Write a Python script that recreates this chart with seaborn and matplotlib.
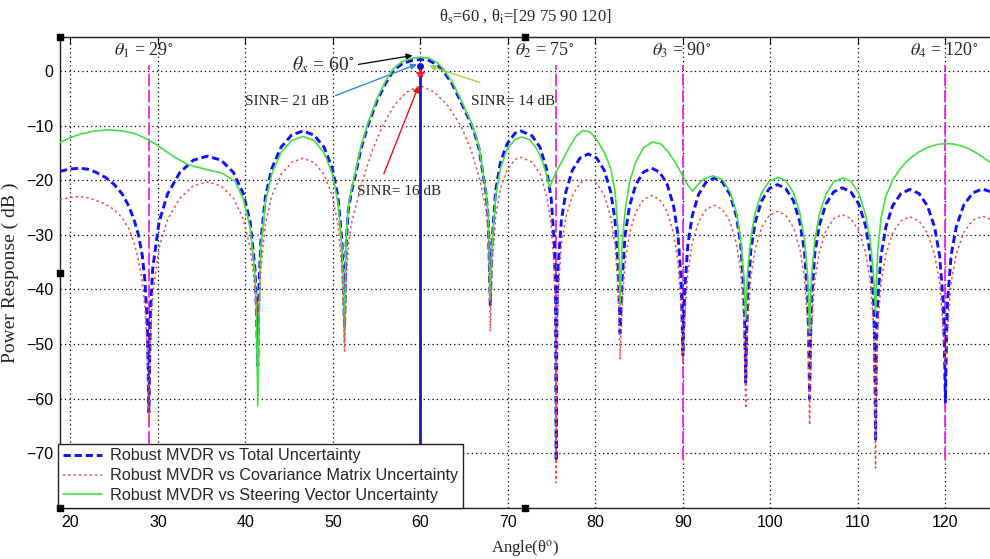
import matplotlib
matplotlib.use('Agg')
import matplotlib.pyplot as plt
import pandas as pd
import seaborn as sns

# ---------------- data ----------------
# Robust MVDR vs Total Uncertainty (blue, dashed)
ang_total = [
    18.8, 19.8, 21.0, 22.0, 22.9, 24.0, 25.0, 25.9, 26.65, 27.25, 27.75, 28.2, 28.5, 28.78, 28.96,
    29.14, 29.4, 30.12, 31.1, 32.5, 34.03, 35.66, 37.22, 38.63, 39.76, 40.54, 41.08, 41.26, 41.41,
    41.55, 41.74, 42.27, 43.0, 44.05, 45.27, 46.57, 47.84, 49.0, 49.93, 50.58, 51.04, 51.2, 51.32,
    51.5, 51.75, 52.1, 52.5, 53.2, 54.0, 55.0, 56.0, 56.9, 57.9, 59.0, 60.0, 61.0, 62.0, 62.6, 63.6,
    64.6, 65.6, 66.2, 66.7, 67.2, 67.5, 67.75, 67.98,
    68.07, 68.21, 68.59, 69.13, 69.89, 70.81, 71.5, 72.77, 73.67, 74.41, 74.93, 75.30, 75.43, 75.52,
    75.6, 75.74, 76.11, 76.63, 77.36, 78.24, 79.19, 80.14, 81.01, 81.74, 82.24, 82.6, 82.72, 82.82,
    83.04, 83.4, 83.9, 84.62, 85.48, 86.42, 87.35, 88.21, 88.93, 89.43, 89.79, 89.9, 90.0,
    90.1, 90.21, 90.57, 91.07, 91.79, 92.65, 93.58, 94.52, 95.38, 96.10, 96.60, 96.96, 97.07, 97.18,
    97.29, 97.40, 97.76, 98.26, 98.99, 99.86, 100.81, 101.76, 102.64, 103.37, 103.89, 104.26, 104.37, 104.48,
    104.59, 104.70, 105.07, 105.59, 106.33, 107.23, 108.21, 109.19, 110.11, 110.87, 111.41, 111.79, 111.91, 112.02,
    112.12, 112.26, 112.64, 113.19, 113.97, 114.92, 115.94, 116.99, 117.95, 118.77, 119.34, 119.75, 119.88, 120.0,
    120.12, 120.25, 120.66, 121.25, 122.09, 123.11, 124.23, 125.1]
db_total = [
    -18.4, -18.0, -17.8, -18.0, -18.55, -19.5, -20.8, -22.5, -24.7, -27.2, -29.9, -33.7, -38.3, -46.3, -62.5,
    -44.1, -36.1, -27.7, -22.5, -18.6, -16.35, -15.6, -16.35, -18.6, -22.5, -27.7, -36.1, -44.1, -54.0,
    -39.5, -31.5, -23.1, -17.9, -14.0, -11.75, -11.0, -11.75, -14.0, -17.9, -23.1, -31.5, -39.5, -47.0,
    -32.0, -25.5, -22.3, -19.5, -14.3, -10.0, -5.6, -2.3, 0.0, 1.3, 1.9, 2.1, 1.9, 1.0, 0.0, -2.3,
    -5.6, -9.0, -11.5, -14.3, -19.5, -22.5, -27.0, -42.8,
    -36.5, -30.5, -22.0, -16.8, -13.4, -11.4, -11.0, -11.9, -14.0, -18.0, -23.2, -31.5, -40.0, -71.4,
    -43.7, -35.7, -27.3, -22.1, -18.2, -15.95, -15.2, -15.95, -18.2, -22.1, -27.3, -35.7, -42.0, -48.0,
    -38.3, -29.9, -24.7, -20.8, -18.55, -17.8, -18.55, -20.8, -24.7, -29.9, -38.3, -45.0, -52.0,
    -46.0, -40.1, -31.7, -26.5, -22.6, -20.35, -19.6, -20.35, -22.6, -26.5, -31.7, -40.1, -47.0, -57.0,
    -48.0, -41.3, -32.9, -27.7, -23.8, -21.55, -20.8, -21.55, -23.8, -27.7, -32.9, -41.3, -48.5, -60.0,
    -49.0, -41.9, -33.5, -28.3, -24.4, -22.15, -21.4, -22.15, -24.4, -28.3, -33.5, -41.9, -50.0, -67.8,
    -50.0, -42.2, -33.8, -28.6, -24.7, -22.45, -21.7, -22.45, -24.7, -28.6, -33.8, -42.2, -50.0, -60.6,
    -50.0, -42.1, -33.7, -28.5, -24.6, -22.35, -21.6, -22.1]

# Robust MVDR vs Covariance Matrix Uncertainty (red, dotted)
ang_cov = [
    18.8, 19.8, 21.0, 22.0, 22.9, 24.0, 25.0, 25.9, 26.65, 27.25, 27.75, 28.2, 28.5, 28.78, 28.96,
    29.14, 29.4, 30.12, 31.1, 32.5, 34.03, 35.66, 37.22, 38.63, 39.76, 40.54, 41.08, 41.26, 41.41,
    41.55, 41.74, 42.27, 43.0, 44.05, 45.27, 46.57, 47.84, 49.0, 49.93, 50.58, 51.04, 51.2, 51.32,
    51.55, 51.8, 52.1, 52.5, 53.4, 54.5, 55.7, 57.0, 58.4, 60.0, 61.6, 63.1, 64.6, 65.8, 66.8, 67.5, 67.8, 67.98,
    68.07, 68.21, 68.59, 69.13, 69.89, 70.81, 71.5, 72.77, 73.67, 74.41, 74.93, 75.30, 75.43, 75.52,
    75.6, 75.74, 76.11, 76.63, 77.36, 78.24, 79.19, 80.14, 81.01, 81.74, 82.24, 82.6, 82.72, 82.82,
    83.04, 83.4, 83.9, 84.62, 85.48, 86.42, 87.35, 88.21, 88.93, 89.43, 89.79, 89.9, 90.0,
    90.1, 90.21, 90.57, 91.07, 91.79, 92.65, 93.58, 94.52, 95.38, 96.10, 96.60, 96.96, 97.07, 97.18,
    97.29, 97.40, 97.76, 98.26, 98.99, 99.86, 100.81, 101.76, 102.64, 103.37, 103.89, 104.26, 104.37, 104.48,
    104.59, 104.70, 105.07, 105.59, 106.33, 107.23, 108.21, 109.19, 110.11, 110.87, 111.41, 111.79, 111.91, 112.02,
    112.12, 112.26, 112.64, 113.19, 113.97, 114.92, 115.94, 116.99, 117.95, 118.77, 119.34, 119.75, 119.88, 120.0,
    120.12, 120.25, 120.66, 121.25, 122.09, 123.11, 124.23, 125.1]
db_cov = [
    -23.6, -23.2, -23.0, -23.2, -23.7, -24.4, -25.4, -26.9, -28.8, -31.3, -34.5, -38.5, -43.0, -51.0, -64.0,
    -48.8, -40.8, -32.4, -27.2, -23.3, -21.05, -20.3, -21.05, -23.3, -27.2, -32.4, -39.5, -42.5, -45.0,
    -42.0, -36.5, -28.1, -22.9, -19.0, -16.75, -16.0, -16.75, -19.0, -22.9, -28.1, -36.5, -43.5, -51.3,
    -37.0, -31.5, -28.0, -25.5, -20.0, -14.5, -10.0, -6.3, -3.9, -2.7, -3.9, -6.3, -10.0, -14.5, -20.0, -25.5, -31.0, -47.7,
    -41.5, -35.3, -26.8, -21.6, -18.2, -16.2, -15.8, -16.7, -18.8, -22.8, -28.0, -36.3, -44.5, -75.4,
    -48.3, -40.3, -31.9, -26.7, -22.8, -20.55, -19.8, -20.55, -22.8, -26.7, -31.9, -40.3, -46.0, -52.8,
    -43.3, -34.9, -29.7, -25.8, -23.55, -22.8, -23.55, -25.8, -29.7, -34.9, -43.3, -48.0, -53.4,
    -49.0, -45.1, -36.7, -31.5, -27.6, -25.35, -24.6, -25.35, -27.6, -31.5, -36.7, -45.1, -52.0, -61.8,
    -53.0, -46.2, -37.8, -32.6, -28.7, -26.45, -25.7, -26.45, -28.7, -32.6, -37.8, -46.2, -53.5, -64.8,
    -54.0, -46.8, -38.4, -33.2, -29.3, -27.05, -26.3, -27.05, -29.3, -33.2, -38.4, -46.8, -55.0, -72.7,
    -55.0, -47.2, -38.8, -33.6, -29.7, -27.45, -26.7, -27.45, -29.7, -33.6, -38.8, -47.2, -51.0, -54.0,
    -51.0, -47.1, -38.7, -33.5, -29.6, -27.35, -26.6, -27.1]

# Robust MVDR vs Steering Vector Uncertainty (green, solid)
ang_steer = [
    18.8, 20.0, 21.3, 22.8, 24.4, 26.0, 27.4, 28.5, 29.7, 31.0, 32.0, 33.5, 35.4, 37.3, 38.8, 39.76,
    40.54, 41.08, 41.26, 41.41,
    41.55, 41.74, 42.27, 43.0, 44.05, 45.27, 46.57, 47.84, 49.0, 49.93, 50.58, 51.04, 51.2, 51.32,
    51.5, 51.75, 52.1, 52.5, 53.2, 54.0, 55.0, 56.0, 56.9, 57.9, 59.0, 60.0, 61.0, 62.0, 62.6, 63.6,
    64.6, 65.6, 66.2, 66.7, 67.2, 67.5, 67.75, 67.98,
    68.07, 68.21, 68.59, 69.13, 69.89, 70.81, 71.6, 72.5, 73.3, 74.0, 74.45, 74.75, 75.1, 75.6, 76.3,
    77.0, 77.8, 78.6, 79.4, 80.14, 81.01, 81.74, 82.24, 82.6, 82.72, 82.82,
    83.04, 83.4, 83.9, 84.62, 85.48, 86.5, 87.5, 88.3, 89.2, 89.9, 90.5, 91.1, 91.6, 92.3, 93.4,
    94.52, 95.38, 96.10, 96.60, 96.96, 97.07, 97.18,
    97.29, 97.40, 97.76, 98.26, 98.99, 99.86, 100.9, 101.76, 102.64, 103.37, 103.89, 104.26, 104.37, 104.48,
    104.59, 104.70, 105.07, 105.59, 106.33, 107.23, 108.3, 109.19, 110.11, 110.87, 111.41, 111.79, 111.91, 112.02,
    112.12, 112.26, 112.64, 113.19, 113.97, 114.92, 115.94, 117.0, 118.0, 119.0, 120.0, 121.0, 122.0,
    123.0, 124.0, 125.1]
db_steer = [
    -13.1, -12.2, -11.5, -11.0, -10.8, -11.0, -11.5, -12.3, -13.4, -14.8, -15.9, -17.2, -18.0, -18.7, -20.2, -23.5,
    -28.7, -37.0, -45.0, -61.3,
    -45.0, -32.5, -24.1, -18.9, -15.0, -12.75, -12.0, -12.75, -15.0, -18.9, -24.1, -32.5, -40.5, -49.7,
    -31.0, -25.0, -21.8, -19.0, -13.8, -9.6, -5.2, -1.9, 0.4, 1.7, 2.3, 2.5, 2.3, 1.4, 0.4, -1.9,
    -5.2, -8.7, -11.2, -14.0, -19.2, -22.2, -26.5, -42.0,
    -37.0, -31.0, -23.0, -17.9, -14.4, -12.5, -12.1, -12.6, -14.3, -16.8, -19.3, -21.3, -20.0, -18.2, -16.2,
    -14.0, -11.9, -10.9, -11.2, -12.6, -14.9, -17.8, -22.0, -29.5, -35.0, -43.0,
    -32.0, -25.5, -20.3, -16.6, -14.1, -13.0, -13.4, -14.8, -16.9, -19.0, -20.8, -22.0, -21.0, -19.9, -19.2,
    -19.9, -22.1, -25.8, -30.8, -37.5, -41.5, -45.5,
    -41.0, -36.5, -30.5, -25.9, -22.3, -20.2, -19.5, -20.1, -22.3, -26.0, -30.8, -37.5, -42.0, -48.0,
    -42.0, -37.5, -31.0, -26.3, -22.6, -20.3, -19.6, -20.2, -22.4, -26.3, -31.0, -37.5, -41.0, -44.3,
    -39.0, -33.0, -27.0, -23.0, -20.0, -17.7, -16.0, -14.8, -14.0, -13.5, -13.3, -13.4, -13.8,
    -14.5, -15.5, -16.7]

series_labels = ['Robust MVDR vs Total Uncertainty',
                 'Robust MVDR vs Covariance Matrix Uncertainty',
                 'Robust MVDR vs Steering Vector Uncertainty']

look_angle = 60
interf_angles = [29, 75.5, 90, 120]
interf_labels = [r'$\theta_1$ = 29$^{\circ}$', r'$\theta_2$ = 75$^{\circ}$',
                 r'$\theta_3$ = 90$^{\circ}$', r'$\theta_4$ = 120$^{\circ}$']
interf_top, interf_bottom = 1.0, -71.3
peak_total, peak_cov = 0.9, -0.3

xticks = [20, 30, 40, 50, 60, 70, 80, 90, 100, 110, 120]
yticks = [0, -10, -20, -30, -40, -50, -60, -70]

# ---------------- figure ----------------
sns.set_style('white')
plt.rcParams['font.family'] = ['Liberation Serif', 'DejaVu Serif']
plt.rcParams['mathtext.fontset'] = 'stix'

fig = plt.figure(figsize=(9.9, 5.59), dpi=100)
ax = fig.add_axes([60 / 990, 1 - 508 / 559, 930 / 990, (508 - 37) / 559])

# vertical reference lines
ax.vlines(interf_angles, interf_bottom, interf_top, colors='#ee22ee',
          linestyles=[(0, (7, 2))], lw=1.3, zorder=2)
ax.vlines([look_angle], -80, peak_total, colors='#1c1caa', lw=2.0, zorder=5)

df_t = pd.DataFrame({'angle': ang_total, 'dB': db_total})
df_c = pd.DataFrame({'angle': ang_cov, 'dB': db_cov})
df_s = pd.DataFrame({'angle': ang_steer, 'dB': db_steer})

sns.lineplot(data=df_t, x='angle', y='dB', ax=ax, sort=False, estimator=None,
             color='#1010ff', lw=2.1, linestyle=(0, (2.5, 1.3)), label=series_labels[0], zorder=3)
sns.lineplot(data=df_c, x='angle', y='dB', ax=ax, sort=False, estimator=None,
             color='#f04848', lw=1.1, linestyle=(0, (1.5, 2.0)), label=series_labels[1], zorder=4)
sns.lineplot(data=df_s, x='angle', y='dB', ax=ax, sort=False, estimator=None,
             color='#44e044', lw=1.2, linestyle='-', label=series_labels[2], zorder=3.5)

ax.plot([look_angle], [peak_total], 'o', color='#1010cc', ms=4, zorder=6)
ax.plot([look_angle], [peak_cov], '*', color='#ff2020', ms=6, zorder=6)

# annotations
ax.annotate('', xy=(59.4, 2.9), xytext=(52.6, 1.1),
            arrowprops=dict(arrowstyle='-|>', color='black', lw=0.9, mutation_scale=9))
ax.text(48.9, 1.1, r'$\theta_s$ = 60$^{\circ}$', fontsize=14, ha='center', va='center')
ax.annotate('', xy=(59.9, 1.4), xytext=(50.0, -4.7),
            arrowprops=dict(arrowstyle='-|>', color='#2c8ad8', lw=1.0, mutation_scale=9))
ax.text(44.8, -5.6, 'SINR= 21 dB', fontsize=11, ha='center', va='center')
ax.annotate('', xy=(60.7, 1.1), xytext=(67.1, -2.3),
            arrowprops=dict(arrowstyle='-|>', color='#a0d048', lw=1.0, mutation_scale=9))
ax.text(70.6, -5.6, 'SINR= 14 dB', fontsize=11, ha='center', va='center')
ax.annotate('', xy=(59.9, -2.3), xytext=(55.7, -19.3),
            arrowprops=dict(arrowstyle='-|>', color='#ee1111', lw=1.0, mutation_scale=9))
ax.text(57.5, -22.0, 'SINR= 16 dB', fontsize=11, ha='center', va='center')

label_x = [28.3, 74.2, 89.8, 119.8]
for lx, lab in zip(label_x, interf_labels):
    ax.text(lx, 3.8, lab, fontsize=13, ha='center', va='center')

# axes styling
ax.set_xlim(18.8, 125.1)
ax.set_ylim(-80, 6.2)
ax.set_xticks(xticks)
ax.set_yticks(yticks)
ax.grid(True, color='black', linestyle=(0, (1, 2.5)), lw=0.9)
ax.set_axisbelow(True)
ax.tick_params(direction='in', length=5, top=True, right=False, labelsize=11.5, pad=5, colors='black')
for lab in ax.get_xticklabels() + ax.get_yticklabels():
    lab.set_fontfamily('Liberation Sans')
for s in ['left', 'top', 'bottom']:
    ax.spines[s].set_color('#222222')
    ax.spines[s].set_linewidth(1.0)
ax.spines['right'].set_visible(False)

ax.set_xlabel('Angle(θ$^{\\mathrm{o}}$)', fontsize=12, labelpad=6)
ax.set_ylabel('Power Response ( dB )', fontsize=14, labelpad=5)
ax.set_title('θ$_{\\mathrm{s}}$=60 , θ$_{\\mathrm{i}}$=[29 75 90 120]', fontsize=12, pad=12)

leg = ax.legend(loc='lower left', bbox_to_anchor=(-0.002, 0.0), borderaxespad=0,
                prop={'family': 'Liberation Sans', 'size': 11.7}, frameon=True, fancybox=False,
                framealpha=1, edgecolor='#222222', handlelength=2.4, handletextpad=0.5,
                borderpad=0.3, labelspacing=0.3)
leg.get_frame().set_linewidth(1.0)

# selection handles (black squares) seen on the axes frame
ax.scatter([0, 0, 0, 0.5, 0.5], [1, 0.5, 0, 1, 0], marker='s', s=18, color='black',
           transform=ax.transAxes, clip_on=False, zorder=10)

fig.savefig('out.png', dpi=100)
